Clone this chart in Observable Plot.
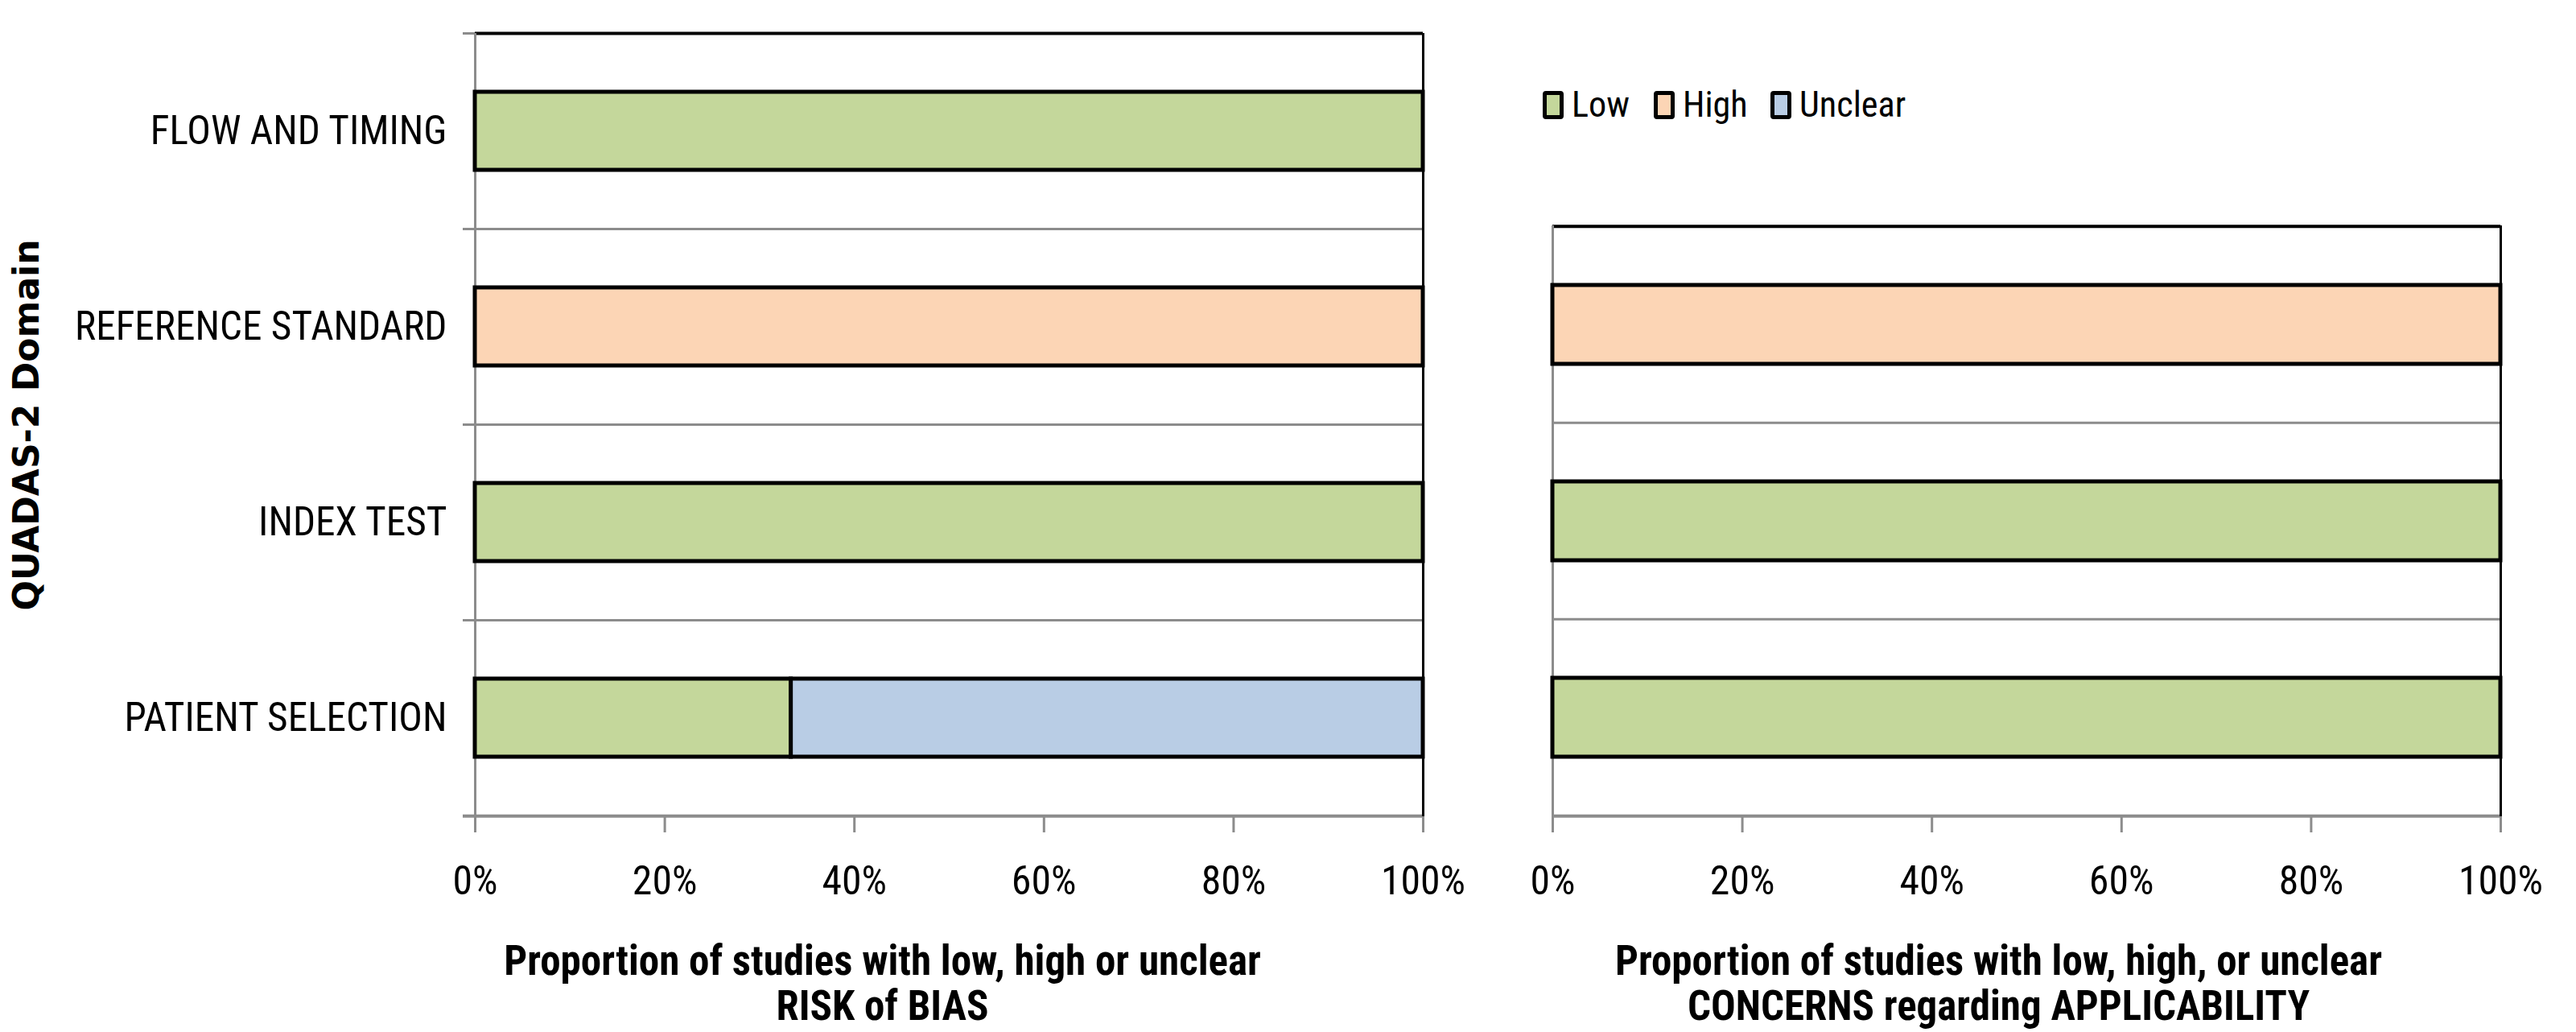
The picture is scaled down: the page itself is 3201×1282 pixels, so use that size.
<!DOCTYPE html>
<html>
<head>
<meta charset="utf-8">
<script src="https://cdn.jsdelivr.net/npm/d3@7"></script>
<script src="https://cdn.jsdelivr.net/npm/@observablehq/plot@0.6"></script>
<style>
  html, body { margin: 0; padding: 0; background: white; }
  #wrap { position: relative; width: 3201px; height: 1282px; background: white; overflow: hidden; }
  #wrap > svg { position: absolute; top: 0; }
  .leg { position: absolute; display: flex; align-items: center; color: black; white-space: nowrap; }
  .leg .sw { width: 26px; height: 35px; border: 5px solid black; border-radius: 4px; box-sizing: border-box; margin-right: 10px; }
</style>
</head>
<body>
<div id="wrap"></div>
<script>
// ---- data ----
const levels = ["Low", "High", "Unclear"];
const levelColors = ["#c4d79b", "#fcd5b5", "#b9cde5"];

const biasDomains = ["FLOW AND TIMING", "REFERENCE STANDARD", "INDEX TEST", "PATIENT SELECTION"];
const biasLow     = [1, 0, 1, 1 / 3];
const biasHigh    = [0, 1, 0, 0];
const biasUnclear = [0, 0, 0, 2 / 3];

const applicDomains = ["REFERENCE STANDARD", "INDEX TEST", "PATIENT SELECTION"];
const applicLow     = [0, 1, 1];
const applicHigh    = [1, 0, 0];
const applicUnclear = [0, 0, 0];

const xTicks = [0, 0.2, 0.4, 0.6, 0.8, 1];
const yTitle = "QUADAS-2 Domain";
const biasTitle = "Proportion of studies with low, high or unclear\nRISK of BIAS";
const applicTitle = "Proportion of studies with low, high, or unclear\nCONCERNS regarding APPLICABILITY";

function toRows(domains, low, high, unclear) {
  const rows = [];
  domains.forEach((d, i) => {
    [low[i], high[i], unclear[i]].forEach((v, j) => {
      if (v > 0) rows.push({domain: d, level: levels[j], value: v});
    });
  });
  return rows;
}

// ---- font selection: prefer a narrow sans (the original uses Calibri) ----
const ctx = document.createElement("canvas").getContext("2d");
function hasFont(name) {
  const s = "REFERENCE STANDARD abcdefghijklm 0123456789%";
  for (const base of ["monospace", "serif"]) {
    ctx.font = `50px ${base}`;
    const w0 = ctx.measureText(s).width;
    ctx.font = `50px '${name}', ${base}`;
    if (Math.abs(ctx.measureText(s).width - w0) > 0.5) return true;
  }
  return false;
}
const candidates = ["Roboto Condensed", "Liberation Sans Narrow", "Arial Narrow", "Open Sans Condensed", "Noto Sans Condensed", "DejaVu Sans Condensed"];
const family = candidates.find(hasFont) || "DejaVu Sans Condensed";
const font = `'${family}', 'DejaVu Sans Condensed', sans-serif`;
function fitSize(str, target, weight, max) {
  ctx.font = `${weight} 100px ${font}`;
  const w = ctx.measureText(str).width;
  return Math.min(max, Math.round(100 * target / w * 10) / 10);
}
const labelSize = fitSize("REFERENCE STANDARD", 463, "normal", 54);
const tickSize = fitSize("100%", 105, "normal", 56);
const titleSize = fitSize("Proportion of studies with low, high or unclear", 950, "bold", 51);
const legendSize = fitSize("Unclear", 132, "normal", 52);

const gray = "#8c8c8c";

function panel({domains, rows, width, marginLeft, marginRight, marginTop, marginBottom, title, titleCx, showY, tickExt}) {
  const height = 1282;
  const step = (height - marginTop - marginBottom) / domains.length;
  const frameCx = (marginLeft + width - marginRight) / 2;
  const marks = [
    Plot.ruleY(domains, {y: d => d, dy: -step / 2, stroke: gray, strokeWidth: 3, insetLeft: -tickExt}),
    Plot.ruleY([domains[domains.length - 1]], {y: d => d, dy: step / 2, stroke: gray, strokeWidth: 4, insetLeft: -tickExt}),
    Plot.ruleY([domains[0]], {y: d => d, dy: -step / 2, stroke: "black", strokeWidth: 4}),
    Plot.ruleX([1], {stroke: "black", strokeWidth: 3}),
    Plot.ruleX([0], {stroke: gray, strokeWidth: 3}),
    Plot.barX(rows, Plot.stackX({x: "value", y: "domain", fill: "level", stroke: "black", strokeWidth: 5, order: levels})),
    Plot.axisX({ticks: xTicks, tickFormat: d3.format(".0%"), tickSize: 20, tickPadding: 1093 - 1014 - 20 - 0.35 * tickSize,
                stroke: gray, strokeWidth: 3, fill: "black", fontSize: tickSize, label: null}),
    Plot.text([title], {frameAnchor: "bottom", dy: 1221 - 1014, dx: titleCx - frameCx, lineAnchor: "middle", lineHeight: 56 / titleSize,
                fontSize: titleSize, fontWeight: "bold", fill: "black"})
  ];
  if (showY) {
    marks.push(Plot.axisY({tickSize: 0, tickPadding: 35, fontSize: labelSize, fill: "black", label: null}));
    marks.push(Plot.text([yTitle], {frameAnchor: "left", dx: 33 - marginLeft, rotate: -90, textAnchor: "middle",
                fontSize: 44, fontWeight: "bold", fontFamily: "'DejaVu Sans', sans-serif", fill: "black"}));
  }
  return Plot.plot({
    width, height, marginLeft, marginRight, marginTop, marginBottom,
    style: {fontFamily: font, fontSize: labelSize + "px", color: "black", background: "transparent", overflow: "visible"},
    x: {domain: [0, 1], axis: null},
    y: {domain: domains, paddingInner: 0.6, paddingOuter: 0.3, axis: null},
    color: {domain: levels, range: levelColors},
    marks
  });
}

const wrap = document.getElementById("wrap");

const left = panel({
  domains: biasDomains, rows: toRows(biasDomains, biasLow, biasHigh, biasUnclear),
  width: 1800, marginLeft: 590, marginRight: 32, marginTop: 41, marginBottom: 268,
  title: biasTitle, titleCx: 1096, showY: true, tickExt: 15
});
left.style.left = "0px";
wrap.appendChild(left);

const right = panel({
  domains: applicDomains, rows: toRows(applicDomains, applicLow, applicHigh, applicUnclear),
  width: 1401, marginLeft: 129, marginRight: 94, marginTop: 280, marginBottom: 268,
  title: applicTitle, titleCx: 2483 - 1800, showY: false, tickExt: 0
});
right.style.left = "1800px";
wrap.appendChild(right);

const legendX = [1917, 2055, 2200];
levels.forEach((lv, i) => {
  const item = document.createElement("div");
  item.className = "leg";
  item.style.left = legendX[i] + "px";
  item.style.top = (130 - 30) + "px";
  item.style.height = "60px";
  item.style.fontFamily = font;
  item.style.fontSize = legendSize + "px";
  const sw = document.createElement("div");
  sw.className = "sw";
  sw.style.background = levelColors[i];
  const t = document.createElement("span");
  t.textContent = lv;
  item.appendChild(sw);
  item.appendChild(t);
  wrap.appendChild(item);
});
</script>
</body>
</html>
